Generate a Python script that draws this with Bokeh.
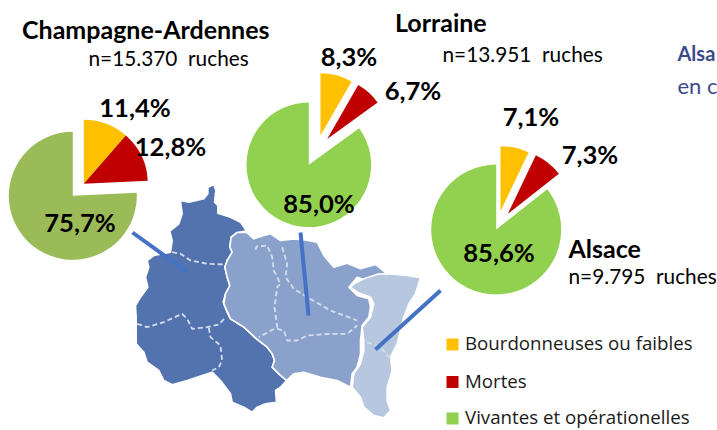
import math
from bokeh.plotting import figure
from bokeh.models import Range1d
from bokeh.core.properties import value
from bokeh.embed import file_html
from bokeh.resources import INLINE

categories = ["Bourdonneuses ou faibles", "Mortes", "Vivantes et opérationelles"]
champagne = [11.4, 12.8, 75.7]
lorraine = [8.3, 6.7, 85.0]
alsace = [7.1, 7.3, 85.6]
champagne_labels = ["11,4%", "12,8%", "75,7%"]
lorraine_labels = ["8,3%", "6,7%", "85,0%"]
alsace_labels = ["7,1%", "7,3%", "85,6%"]

map_dark = [(232,50),(250,42),(256,60),(252,95),(262,105),(262,128),(300,140),(330,155),(348,182),(320,186),(302,200),(298,230),(305,245),(290,270),(283,290),(290,320),(298,345),(285,370),(278,395),(292,430),(300,445),(340,470),(378,505),(410,530),(425,550),(432,570),(425,590),(445,610),(468,630),(450,650),(435,660),(438,695),(405,700),(380,710),(365,725),(340,710),(305,695),(300,670),(270,630),(245,605),(215,615),(170,630),(125,643),(100,630),(85,600),(50,575),(40,545),(17,520),(17,470),(17,440),(15,405),(30,380),(52,350),(45,320),(55,290),(50,270),(70,255),(120,245),(125,210),(118,182),(145,160),(155,130),(150,90),(175,95),(220,85),(232,70)]
map_mid = [(302,200),(320,186),(348,185),(370,205),(400,195),(420,190),(450,210),(490,205),(520,208),(560,215),(580,255),(610,290),(650,278),(690,295),(735,282),(770,310),(760,335),(735,340),(680,320),(655,350),(680,375),(715,385),(720,410),(715,440),(695,465),(690,510),(690,550),(680,590),(665,610),(660,650),(620,630),(570,620),(520,605),(490,610),(468,630),(445,610),(425,590),(432,570),(425,550),(410,530),(378,505),(340,470),(300,445),(280,400),(285,370),(298,345),(290,320),(283,290),(290,270),(305,245),(298,230)]
map_light = [(670,340),(700,325),(745,310),(780,310),(830,315),(870,322),(855,370),(835,400),(820,440),(810,480),(800,520),(780,560),(785,600),(770,650),(770,690),(780,720),(760,742),(730,735),(700,710),(690,680),(665,650),(670,610),(690,580),(700,540),(700,510),(695,470),(720,440),(730,400),(720,380),(680,365),(660,350)]
map_dashes = [
    [(125,245),(150,250),(180,270),(230,280),(280,282)],
    [(20,460),(50,470),(100,455),(155,430),(170,445),(185,475),(230,470),(265,462),(285,440)],
    [(235,472),(240,500),(270,525),(275,570),(265,590),(245,600)],
    [(375,238),(378,228),(410,225),(425,260),(430,300),(450,340),(440,350),(432,410),(440,470),(385,500)],
    [(455,230),(470,280),(465,320),(490,355),(530,380),(600,420),(680,450)],
    [(440,475),(460,480),(470,510),(500,510),(530,495),(600,490),(650,490),(680,465)],
    [(710,515),(750,530),(775,560)],
]

ORANGE, RED, GREEN, OLIVE = "#FFC000", "#C00000", "#92D050", "#9BBB59"
INK, NAVY = "#000000", "#3B4A8C"

W, H = 717, 430
p = figure(width=W, height=H, output_backend="svg", toolbar_location=None,
           x_range=Range1d(0, 717), y_range=Range1d(0, 430), min_border=0,
           x_axis_type="linear", outline_line_color=None, background_fill_color="#FFFFFF")
p.axis.visible = False
p.grid.visible = False

def Y(y):
    return 430 - y
def mx(pts):
    return [130 + a / 3 for a, b in pts]
def my(pts):
    return [Y(170 + b / 3) for a, b in pts]

for pts, col in [(map_dark, "#5373AF"), (map_mid, "#8AA2CB"), (map_light, "#B7C7E0")]:
    p.patch(mx(pts), my(pts), fill_color=col, line_color="#FFFFFF", line_width=1.6)
for pts in map_dashes:
    p.line(mx(pts), my(pts), line_color="#D6DEEC", line_width=1.8, line_dash="5 3")

# connectors
for x0, y0, x1, y1 in [(132, 232, 186, 271), (300, 232, 308, 315), (440, 290, 375, 349)]:
    p.line([x0, x1], [Y(y0), Y(y1)], line_color="#4472C4", line_width=4)

def pie(vals, centers, radius, colors):
    total = sum(vals)
    cum = 0.0
    for v, (cx, cy), col in zip(vals, centers, colors):
        a0 = math.pi / 2 - 2 * math.pi * cum / total
        cum += v
        a1 = math.pi / 2 - 2 * math.pi * cum / total
        p.wedge(x=cx, y=Y(cy), radius=radius, start_angle=a1, end_angle=a0,
                fill_color=col, line_color=None)

pie(champagne, [(83.3, 183.3), (83.3, 183.3), (72.3, 195.3)], 64, [ORANGE, RED, OLIVE])
pie(lorraine, [(320, 135), (326.7, 138.5), (308.3, 164.3)], 62.3, [ORANGE, RED, GREEN])
pie(alsace, [(500, 210.7), (507.3, 213.3), (495.7, 229)], 65, [ORANGE, RED, GREEN])

def label(x, y, s, size, bold=False, color=INK, align="center", font="Lato"):
    p.text(x=[x], y=[Y(y)], text=[s], text_font=value(font), text_font_size=f"{size}px",
           text_font_style="bold" if bold else "normal", text_color=color,
           text_align=align, text_baseline="middle")

for s, (x, y) in zip(champagne_labels, [(134.5, 106.5), (170, 145.5), (79.5, 221.5)]):
    label(x, y, s, 25.6, True)
for s, (x, y) in zip(lorraine_labels, [(348.5, 55.5), (412.5, 89.5), (318.5, 202.5)]):
    label(x, y, s, 25.6, True)
for s, (x, y) in zip(alsace_labels, [(530.5, 115.5), (589.5, 153.5), (498.5, 251.5)]):
    label(x, y, s, 25.6, True)

label(21.5, 28.5, "Champagne-Ardennes", 25, True, align="left")
label(88, 57, "n=15.370\u00a0\u00a0ruches", 20.8, align="left")
label(394.5, 21.5, "Lorraine", 25, True, align="left")
label(442, 53, "n=13.951\u00a0\u00a0ruches", 20.8, align="left")
label(568, 247.5, "Alsace", 25, True, align="left")
label(568, 275, "n=9.795\u00a0\u00a0ruches", 20.8, align="left")
label(677, 52, "Alsa", 20, True, NAVY, align="left")
label(677, 85, "en c", 22, False, NAVY, align="left")

for cat, col, y in zip(categories, [ORANGE, RED, GREEN], [344, 381.5, 418]):
    p.rect(x=[452], y=[Y(y)], width=12, height=12, fill_color=col, line_color=None)
    label(464.5, y - 2, cat, 18.7, color="#1A1A1A", align="left", font="Open Sans")

open("out.html", "w").write(file_html(p, INLINE))
